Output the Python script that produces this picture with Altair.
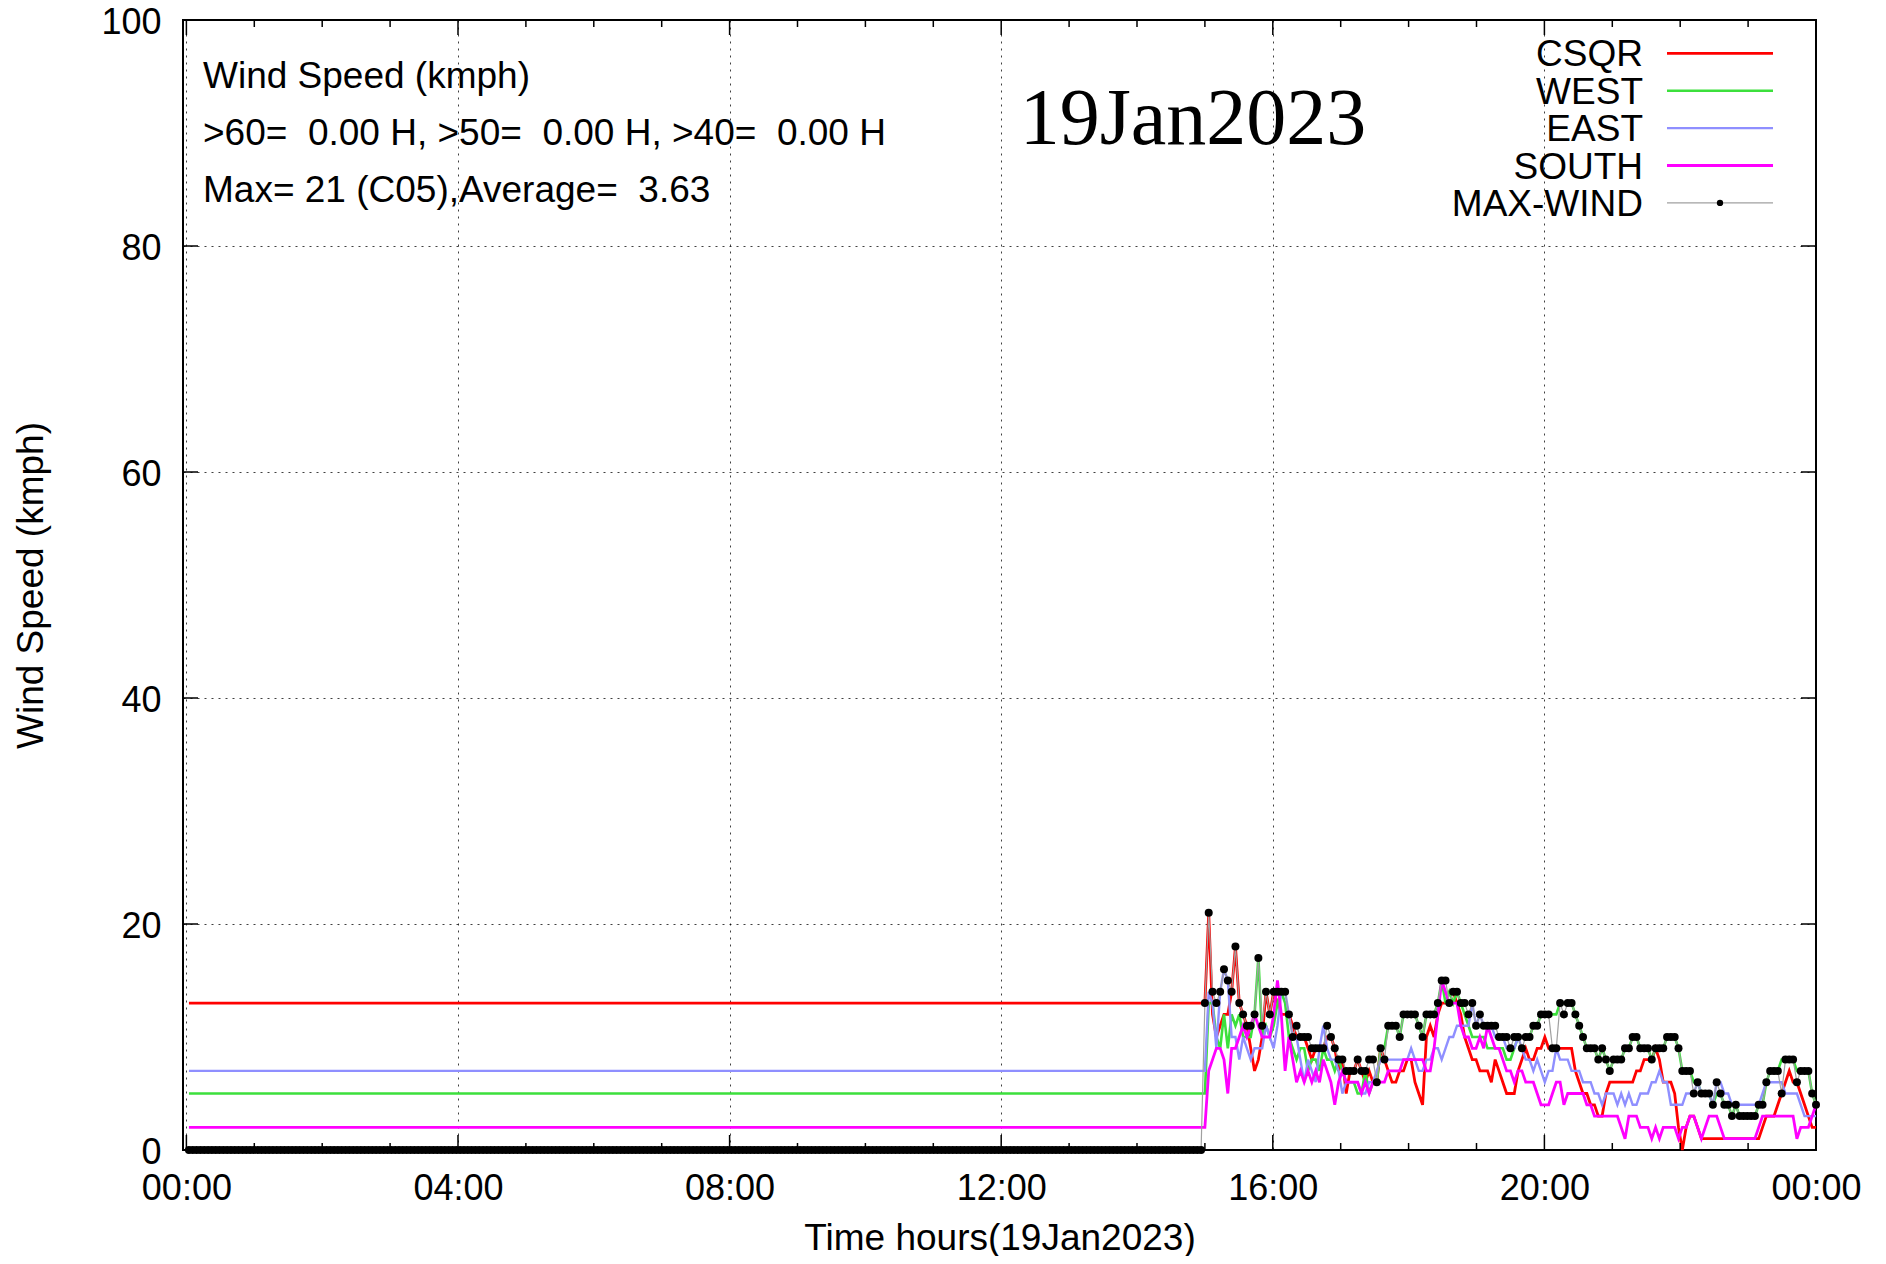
import altair as alt
import pandas as pd

# ---------------- data ----------------
SERIES = ["CSQR", "WEST", "EAST", "SOUTH", "MAX-WIND"]
COLORS = {"CSQR": "#ff0000", "WEST": "#3ce03c", "EAST": "#8f8fff",
          "SOUTH": "#ff00ff", "MAX-WIND": "#a0a0a0"}
WIDTHS = {"CSQR": 2.8, "WEST": 2.6, "EAST": 2.4, "SOUTH": 2.8, "MAX-WIND": 1.2}

STEP_H = 9 / 160          # sampling interval in hours (~3.4 min)
EARLY_N = 266             # samples before 15:00
early_level = {"CSQR": 13, "WEST": 5, "EAST": 7, "SOUTH": 2, "MAX-WIND": 0}

csqr = [13, 21, 12, 10, 11, 12, 12, 14, 18, 13, 12, 11, 9, 7, 8, 10, 14, 12, 14, 13, 12, 12, 12, 11, 10,
        10, 10, 9, 8, 9, 9, 9, 10, 10, 9, 7, 8, 5, 7, 7, 8, 7, 6, 7, 6, 6, 9, 8, 7, 6, 6, 7, 7,
        8, 8, 6, 5, 4, 10, 11, 10, 12, 13, 13, 14, 14, 13, 12, 10, 9, 8, 8, 7, 7, 7, 6, 8, 7, 6, 5,
        5, 5, 7, 8, 9, 8, 8, 9, 9, 10, 9, 9, 9, 9, 9, 9, 9, 7, 6, 5, 5, 4, 4, 3, 3, 5, 6, 6,
        6, 6, 6, 6, 6, 7, 7, 8, 8, 8, 9, 8, 6, 6, 6, 5, 2, 0, 2, 3, 3, 2, 1, 1, 1, 1, 1,
        1, 1, 1, 1, 1, 1, 1, 1, 1, 1, 1, 2, 3, 3, 3, 4, 5, 6, 7, 6, 6, 5, 4, 3, 2, 2]
west = [5, 13, 13, 10, 9, 12, 9, 12, 11, 12, 10, 10, 10, 12, 17, 10, 11, 10, 11, 13, 14, 13, 10, 9, 8,
        9, 9, 7, 8, 8, 7, 9, 8, 8, 7, 8, 7, 6, 6, 6, 5, 5, 7, 5, 6, 6, 9, 9, 11, 11, 11, 10, 12,
        12, 12, 12, 11, 10, 12, 12, 12, 13, 15, 13, 14, 13, 14, 13, 12, 11, 10, 10, 10, 10, 9, 9, 9, 9, 9, 8,
        8, 9, 10, 10, 10, 10, 11, 11, 12, 12, 12, 12, 12, 13, 13, 13, 13, 12, 11, 10, 9, 9, 9, 8, 9, 8, 7, 8,
        8, 8, 9, 9, 10, 10, 9, 9, 9, 8, 9, 9, 9, 10, 10, 10, 9, 7, 7, 7, 6, 6, 5, 5, 5, 4, 5,
        5, 4, 4, 3, 4, 3, 3, 3, 3, 3, 4, 4, 6, 7, 7, 7, 8, 8, 8, 8, 7, 7, 7, 7, 5, 4]
east = [7, 14, 13, 9, 14, 16, 15, 10, 10, 8, 10, 9, 8, 9, 9, 9, 11, 10, 9, 11, 14, 14, 12, 10, 10,
        8, 6, 8, 7, 6, 9, 11, 9, 8, 8, 7, 5, 6, 6, 6, 6, 5, 5, 6, 6, 7, 8, 8, 8, 8, 8, 8, 8,
        8, 9, 8, 7, 7, 8, 8, 9, 9, 8, 9, 10, 10, 11, 11, 11, 11, 13, 11, 12, 11, 11, 11, 10, 10, 10, 9,
        9, 9, 10, 9, 8, 8, 7, 8, 7, 6, 7, 7, 9, 8, 8, 8, 7, 7, 7, 6, 6, 6, 5, 5, 4, 5, 5, 5,
        4, 5, 4, 5, 4, 4, 5, 5, 5, 6, 6, 7, 6, 6, 4, 4, 4, 4, 5, 5, 5, 6, 5, 5, 5, 4, 6,
        6, 5, 5, 4, 4, 4, 4, 4, 4, 4, 4, 5, 6, 6, 6, 6, 6, 5, 5, 5, 5, 4, 3, 3, 3, 3]
south = [2, 7, 8, 9, 9, 8, 5, 9, 9, 10, 11, 10, 11, 12, 11, 10, 10, 10, 12, 15, 12, 7, 10, 8, 6,
         7, 6, 7, 6, 7, 6, 8, 7, 6, 4, 6, 7, 6, 6, 6, 6, 5, 6, 5, 6, 6, 6, 6, 7, 7, 7, 7, 8,
         8, 8, 8, 8, 8, 7, 7, 9, 12, 15, 14, 13, 13, 13, 11, 10, 10, 9, 9, 10, 9, 11, 10, 9, 9, 8, 7,
         7, 6, 7, 7, 6, 6, 6, 5, 4, 4, 4, 5, 6, 6, 4, 5, 5, 5, 5, 5, 4, 4, 3, 3, 3, 3, 3, 3,
         3, 2, 1, 3, 3, 3, 2, 2, 2, 1, 2, 1, 2, 2, 2, 2, 1, 2, 2, 3, 3, 2, 1, 2, 3, 3, 3,
         2, 1, 1, 1, 1, 1, 1, 1, 1, 1, 2, 3, 3, 3, 3, 3, 3, 3, 3, 3, 1, 2, 2, 2, 3, 4]
maxwind = [13, 21, 14, 13, 14, 16, 15, 14, 18, 13, 12, 11, 11, 12, 17, 11, 14, 12, 14, 14, 14, 14, 12, 10, 11,
           10, 10, 10, 9, 9, 9, 9, 11, 10, 9, 8, 8, 7, 7, 7, 8, 7, 7, 8, 8, 6, 9, 8, 11, 11, 11, 10, 12,
           12, 12, 12, 11, 10, 12, 12, 12, 13, 15, 15, 13, 14, 14, 13, 13, 12, 13, 11, 12, 11, 11, 11, 11, 10, 10, 10,
           9, 10, 10, 9, 10, 10, 11, 11, 12, 12, 12, 9, 9, 13, 12, 13, 13, 12, 11, 10, 9, 9, 9, 8, 9, 8, 7, 8,
           8, 8, 9, 9, 10, 10, 9, 9, 9, 8, 9, 9, 9, 10, 10, 10, 9, 7, 7, 7, 5, 6, 5, 5, 5, 4, 6,
           5, 4, 4, 3, 4, 3, 3, 3, 3, 3, 4, 4, 6, 7, 7, 7, 5, 8, 8, 8, 6, 7, 7, 7, 5, 4]
late = {"CSQR": csqr, "WEST": west, "EAST": east, "SOUTH": south, "MAX-WIND": maxwind}

hour_ticks = list(range(0, 25))
major_hours = [0, 4, 8, 12, 16, 20, 24]
y_ticks = [0, 20, 40, 60, 80, 100]

info_lines = ["Wind Speed (kmph)",
              ">60=\u00a0 0.00 H, >50=\u00a0 0.00 H, >40=\u00a0 0.00 H",
              "Max= 21 (C05),Average=\u00a0 3.63"]
date_label = "19Jan2023"
x_title = "Time hours(19Jan2023)"
y_title = "Wind Speed (kmph)"

# ---------------- build table ----------------
rows = []
for s in SERIES:
    for k in range(EARLY_N, 0, -1):
        rows.append({"t": 15 - k * STEP_H, "v": early_level[s], "s": s})
    for i, v in enumerate(late[s]):
        rows.append({"t": 15 + i * STEP_H, "v": v, "s": s})
df = pd.DataFrame(rows)

W, H = 1633, 1130
FONT = "Liberation Sans"

x_axis = alt.Axis(values=major_hours, title=x_title,
                  labelExpr="datum.value == 24 ? '00:00' : ((datum.value < 10 ? '0' : '') + datum.value + ':00')",
                  grid=True, gridDash=[2, 5], gridColor="#000000", gridOpacity=0.75, gridWidth=1,
                  ticks=False, domain=False, labelFont=FONT, titleFont=FONT, labelFontSize=36,
                  titleFontSize=37, titleFontWeight="normal", labelColor="black", titleColor="black",
                  labelPadding=21, titlePadding=14, labelFlush=False, labelOverlap=False)
y_axis = alt.Axis(values=y_ticks, title=y_title, grid=True, gridDash=[2, 5], gridColor="#000000",
                  gridOpacity=0.75, gridWidth=1, ticks=False, domain=False, labelFont=FONT,
                  titleFont=FONT, labelFontSize=36, titleFontSize=37, titleFontWeight="normal",
                  labelColor="black", titleColor="black", labelPadding=22, titlePadding=50,
                  labelOffset=2)

x_enc = alt.X("t:Q", scale=alt.Scale(domain=[-0.05, 24], nice=False, zero=False), axis=x_axis)
y_enc = alt.Y("v:Q", scale=alt.Scale(domain=[0, 100], nice=False, zero=False), axis=y_axis)

layers = []
for s in SERIES:
    layers.append(
        alt.Chart(df[df.s == s]).mark_line(color=COLORS[s], strokeWidth=WIDTHS[s])
        .encode(x=x_enc, y=y_enc, order="t:Q")
    )
layers.append(
    alt.Chart(df[df.s == "MAX-WIND"]).mark_circle(color="black", size=64, opacity=1)
    .encode(x=x_enc, y=y_enc)
)

# inward ticks (gnuplot style)
minor_df = pd.DataFrame({"t": [h for h in hour_ticks if h not in major_hours]})
major_df = pd.DataFrame({"t": major_hours})
for tdf, ln in [(minor_df, 7), (major_df, 15)]:
    layers.append(alt.Chart(tdf).mark_rule(color="black", strokeWidth=1.5)
                  .encode(x=x_enc, y=alt.value(H), y2=alt.value(H - ln)))
    layers.append(alt.Chart(tdf).mark_rule(color="black", strokeWidth=1.5)
                  .encode(x=x_enc, y=alt.value(0), y2=alt.value(ln)))
ytick_df = pd.DataFrame({"v": y_ticks})
layers.append(alt.Chart(ytick_df).mark_rule(color="black", strokeWidth=1.5)
              .encode(y=y_enc, x=alt.value(0), x2=alt.value(15)))
layers.append(alt.Chart(ytick_df).mark_rule(color="black", strokeWidth=1.5)
              .encode(y=y_enc, x=alt.value(W - 15), x2=alt.value(W)))

# info text block
for k, line in enumerate(info_lines):
    layers.append(
        alt.Chart(pd.DataFrame({"txt": [line]})).mark_text(
            align="left", baseline="alphabetic", font=FONT, fontSize=37, color="black")
        .encode(x=alt.value(20), y=alt.value(67.6 + 57 * k), text="txt:N")
    )

# big date
layers.append(
    alt.Chart(pd.DataFrame({"txt": [date_label]})).mark_text(
        align="center", baseline="alphabetic", font="Liberation Serif", fontSize=80, color="black")
    .encode(x=alt.value(1010), y=alt.value(124), text="txt:N")
)

# legend (labels on the left, samples on the right, gnuplot style)
for k, s in enumerate(SERIES):
    ly = 33.3 + 37.4 * k
    layers.append(
        alt.Chart(pd.DataFrame({"txt": [s]})).mark_text(
            align="right", baseline="alphabetic", font=FONT, fontSize=37, color="black")
        .encode(x=alt.value(1460), y=alt.value(ly + 13), text="txt:N")
    )
    layers.append(
        alt.Chart(pd.DataFrame({"s": [s]})).mark_rule(color=COLORS[s], strokeWidth=WIDTHS[s])
        .encode(x=alt.value(1484), x2=alt.value(1590), y=alt.value(ly))
    )
    if s == "MAX-WIND":
        layers.append(
            alt.Chart(pd.DataFrame({"s": [s]})).mark_circle(color="black", size=40, opacity=1)
            .encode(x=alt.value(1537), y=alt.value(ly))
        )

chart = alt.layer(*layers).properties(
    width=W, height=H,
    autosize=alt.AutoSizeParams(type="none"),
    padding={"left": 175, "top": 12, "right": 62, "bottom": 106},
    background="white",
).configure_view(stroke="black", strokeWidth=2)

chart.save("out.html", embed_options={"renderer": "svg", "actions": False})
